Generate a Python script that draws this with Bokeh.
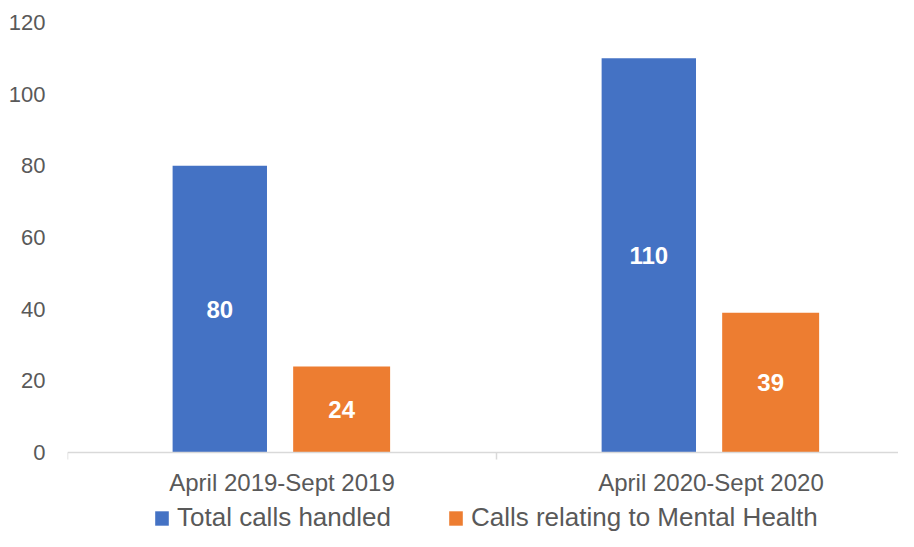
from bokeh.plotting import figure
from bokeh.models import ColumnDataSource, Range1d, FixedTicker, Legend, LegendItem, LabelSet
from bokeh.transform import dodge
from bokeh.core.properties import value
from bokeh.embed import file_html
from bokeh.resources import INLINE

categories = ["April 2019-Sept 2019", "April 2020-Sept 2020"]
total_calls = [80, 110]
mental_health = [24, 39]
y_ticks = [0, 20, 40, 60, 80, 100, 120]

FONT = "Liberation Sans"
BLUE = "#4472C4"
ORANGE = "#ED7D31"
GREY = "#595959"

xc = [i + 0.5 for i in range(len(categories))]
src = ColumnDataSource(dict(
    x=xc, total=total_calls, mental=mental_health,
    total_mid=[v / 2 for v in total_calls],
    mental_mid=[v / 2 for v in mental_health],
    total_lbl=[str(v) for v in total_calls],
    mental_lbl=[str(v) for v in mental_health],
))

p = figure(width=898, height=531, min_border_left=67, min_border_top=22,
           min_border_bottom=0, min_border_right=0,
           x_range=Range1d(0, 1.937), y_range=Range1d(-22.05, 120),
           output_backend="svg", toolbar_location=None)
p.outline_line_color = None
p.grid.grid_line_color = None

r1 = p.vbar(x=dodge("x", -0.145), top="total", width=0.22, source=src,
            fill_color=BLUE, line_color=None)
r2 = p.vbar(x=dodge("x", 0.139), top="mental", width=0.226, source=src,
            fill_color=ORANGE, line_color=None)

for ycol, tcol, off in (("total_mid", "total_lbl", -0.145), ("mental_mid", "mental_lbl", 0.139)):
    p.add_layout(LabelSet(x=dodge("x", off), y=ycol, text=tcol, source=src,
                          text_align="center", text_baseline="middle",
                          text_color="white", text_font=value(FONT),
                          text_font_style="bold", text_font_size="24px"))

# x axis drawn at y = 0 inside the frame
xa = p.xaxis[0]
xa.fixed_location = 0
xa.ticker = FixedTicker(ticks=xc, minor_ticks=list(range(len(categories) + 1)))
xa.major_label_overrides = {x: c for x, c in zip(xc, categories)}
xa.major_tick_line_color = None
xa.major_tick_out = 0
xa.major_tick_in = 0
xa.minor_tick_line_color = "#D9D9D9"
xa.minor_tick_line_width = 1.5
xa.minor_tick_out = 7
xa.minor_tick_in = 0
xa.axis_line_color = "#D9D9D9"
xa.axis_line_width = 1.5
xa.major_label_text_font = FONT
xa.major_label_text_font_size = "24px"
xa.major_label_text_color = GREY
xa.major_label_standoff = 10

# y axis
ya = p.yaxis[0]
ya.ticker = FixedTicker(ticks=y_ticks)
ya.axis_line_color = None
ya.major_tick_line_color = None
ya.major_tick_out = 0
ya.minor_tick_line_color = None
ya.major_label_text_font = FONT
ya.major_label_text_font_size = "22px"
ya.major_label_text_color = GREY
ya.major_label_standoff = 22

legend = Legend(items=[LegendItem(label="Total calls handled", renderers=[r1]),
                       LegendItem(label="Calls relating to Mental Health", renderers=[r2])],
                orientation="horizontal", location=(86, -2),
                label_text_font=FONT, label_text_font_size="26px", label_text_color=GREY,
                glyph_width=17, glyph_height=18, label_standoff=7, spacing=56,
                border_line_color=None, background_fill_alpha=0, padding=0, margin=0)
p.add_layout(legend, "center")

open("out.html", "w").write(file_html(p, INLINE))
